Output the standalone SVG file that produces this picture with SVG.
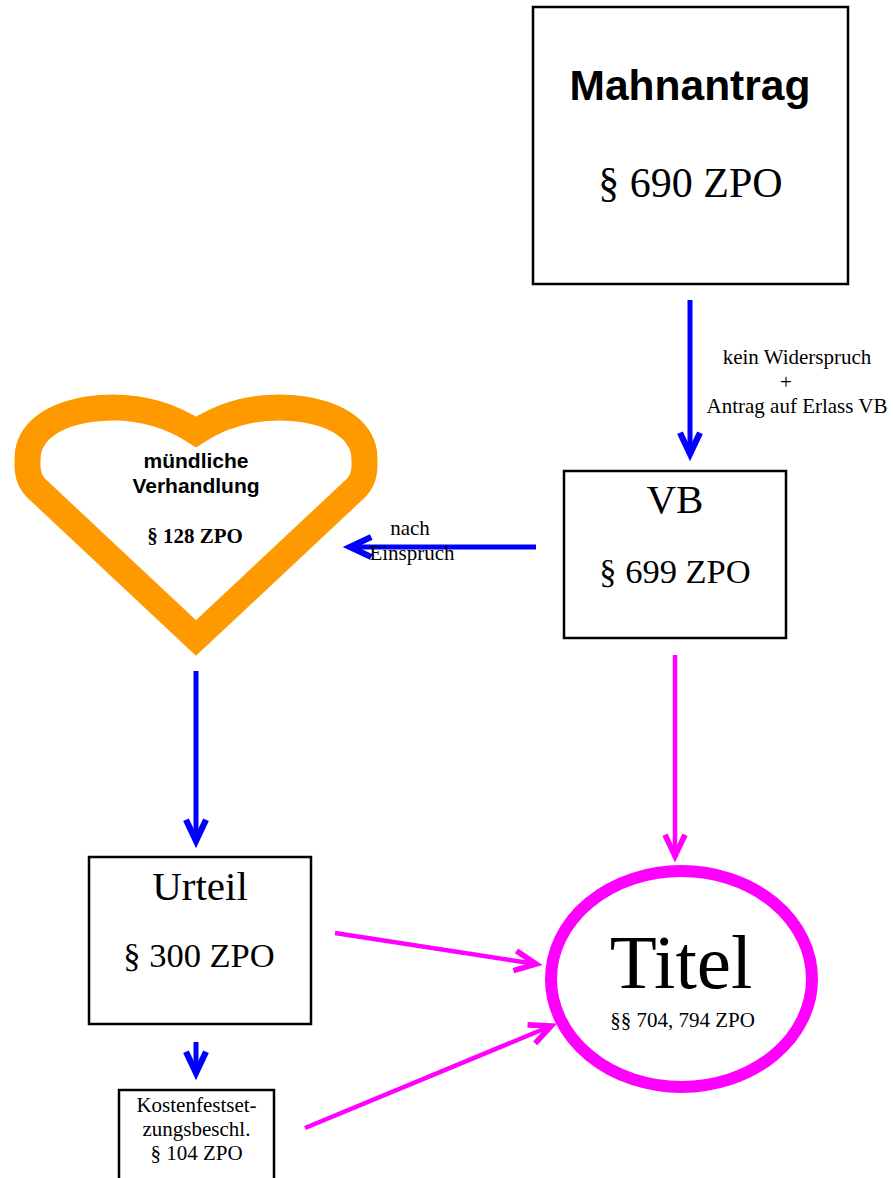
<svg xmlns="http://www.w3.org/2000/svg" width="893" height="1178" viewBox="0 0 893 1178">
<style>
.box{fill:#fff;stroke:#000;stroke-width:2.5}
.serif{font-family:"Liberation Serif","Times New Roman",serif;fill:#000}
.sansb{font-family:"Liberation Sans",Arial,sans-serif;font-weight:bold;fill:#000}
.blue{stroke:#0000FF;stroke-width:5;fill:none}
.mag{stroke:#FF00FF;stroke-width:4.5;fill:none}
</style>
<defs>
<marker id="ab" markerUnits="userSpaceOnUse" markerWidth="30" markerHeight="30" refX="0" refY="0" viewBox="-20 -12 24 24" orient="auto" overflow="visible">
<path d="M-17,-8 L0,0 L-17,8" fill="none" stroke="#0000FF" stroke-width="5" stroke-linejoin="miter" stroke-linecap="butt"/>
</marker>
<marker id="am" markerUnits="userSpaceOnUse" markerWidth="30" markerHeight="30" refX="0" refY="0" viewBox="-20 -12 24 24" orient="auto" overflow="visible">
<path d="M-17,-8 L0,0 L-17,8" fill="none" stroke="#FF00FF" stroke-width="4.5" stroke-linejoin="miter" stroke-linecap="butt"/>
</marker>
</defs>
<rect width="893" height="1178" fill="#fff"/>

<g id="connectors">
<line class="blue" x1="690" y1="300" x2="690" y2="454" marker-end="url(#ab)"/>
<line class="blue" x1="536" y1="547" x2="350" y2="547" marker-end="url(#ab)"/>
<line class="blue" x1="196" y1="671" x2="196" y2="841" marker-end="url(#ab)"/>
<line class="blue" x1="196" y1="1042" x2="196" y2="1073" marker-end="url(#ab)"/>
<line class="mag" x1="675" y1="655" x2="675" y2="856" marker-end="url(#am)"/>
<line class="mag" x1="335" y1="933" x2="536" y2="964" marker-end="url(#am)"/>
<line class="mag" x1="305" y1="1128" x2="551" y2="1026" marker-end="url(#am)"/>
<g class="serif" font-size="21" text-anchor="middle">
<text x="797" y="364">kein Widerspruch</text>
<text x="786" y="389">+</text>
<text x="797" y="413">Antrag auf Erlass VB</text>
<text x="410" y="535">nach</text>
<text x="412" y="560">Einspruch</text>
</g>
</g>

<g id="mahnantrag">
<rect class="box" x="533" y="7" width="315" height="277"/>
<text class="sansb" x="690" y="100" font-size="42.5" text-anchor="middle">Mahnantrag</text>
<text class="serif" x="690.5" y="197" font-size="42" text-anchor="middle">§ 690 ZPO</text>
</g>

<g id="vb">
<rect class="box" x="564" y="471" width="222" height="167"/>
<text class="serif" x="675" y="513" font-size="41" text-anchor="middle">VB</text>
<text class="serif" x="675" y="583" font-size="34.5" text-anchor="middle">§ 699 ZPO</text>
</g>

<g id="verhandlung">
<path d="M196,638 L36,488 C26,478 27,465 28,452 C32,430 55,412 100,408 C140,405 170,415 196,432 C222,415 252,405 292,408 C337,412 360,430 364,452 C365,465 366,478 356,488 Z" fill="#fff" stroke="#FF9900" stroke-width="26" stroke-linejoin="miter" stroke-miterlimit="10"/>
<text class="sansb" x="196" y="468" font-size="21" text-anchor="middle">mündliche</text>
<text class="sansb" x="196" y="493" font-size="21" text-anchor="middle">Verhandlung</text>
<text class="serif" x="195" y="543" font-size="21" font-weight="bold" text-anchor="middle">§ 128 ZPO</text>
</g>

<g id="urteil">
<rect class="box" x="89" y="857" width="222" height="167"/>
<text class="serif" x="200" y="900" font-size="41" text-anchor="middle">Urteil</text>
<text class="serif" x="199" y="967" font-size="34.5" text-anchor="middle">§ 300 ZPO</text>
</g>

<g id="kosten">
<rect class="box" x="119" y="1090" width="155" height="110"/>
<text class="serif" x="196.5" y="1112" font-size="21" text-anchor="middle">Kostenfestset-</text>
<text class="serif" x="196.5" y="1136" font-size="21" text-anchor="middle">zungsbeschl.</text>
<text class="serif" x="196.5" y="1160" font-size="21" text-anchor="middle">§ 104 ZPO</text>
</g>

<g id="titel">
<ellipse cx="681.5" cy="979" rx="130.5" ry="108" fill="#fff" stroke="#FF00FF" stroke-width="12"/>
<text class="serif" x="681" y="988" font-size="77" text-anchor="middle">Titel</text>
<text class="serif" x="682.5" y="1027" font-size="21" text-anchor="middle">§§ 704, 794 ZPO</text>
</g>
</svg>
